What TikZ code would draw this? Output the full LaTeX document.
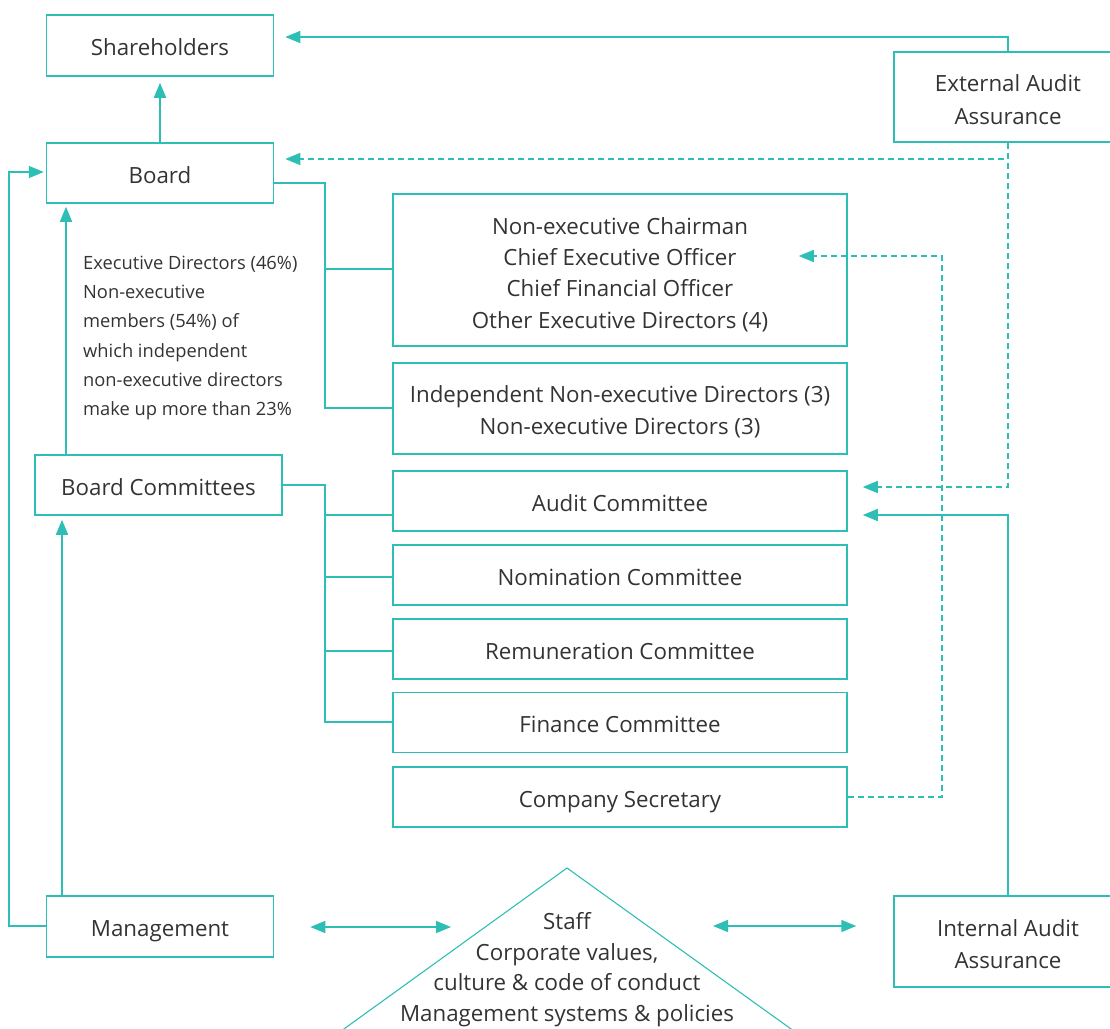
\documentclass[tikz,border=0pt]{standalone}
\usepackage{fontspec}
\setmainfont{Open Sans}
\usetikzlibrary{arrows.meta,calc}
\definecolor{tl}{HTML}{2DBFB5}
\definecolor{tx}{HTML}{333333}
\newcommand\myup[1]{\rule{0pt}{#1}}
\begin{document}
\begin{tikzpicture}[x=1pt,y=-1pt,
  box/.style={draw=tl, line width=1.5pt, text=tx, align=center, inner sep=0pt,
    font=\fontsize{22.3}{31.3}\selectfont},
  one/.style={box, text height=22pt, text depth=2pt},
  two/.style={box, font=\fontsize{22.3}{32.3}\selectfont},
  ln/.style={draw=tl, line width=1.5pt},
  arr/.style={ln, -{Triangle[length=15pt,width=12pt]}},
  darr/.style={ln, {Triangle[length=15pt,width=12pt]}-{Triangle[length=15pt,width=12pt]}},
  dsh/.style={dash pattern=on 6pt off 4pt}]
\useasboundingbox (0,0) rectangle (1110,1028);
% boxes
\node[one, minimum width=227pt, minimum height=61pt] (sh) at (160,45.5) {Shareholders};
\node[one, minimum width=227pt, minimum height=60pt] (board) at (160,173) {Board};
\node[two, minimum width=228pt, minimum height=90pt] (ext) at (1008,97) {\myup{22pt}External Audit\\Assurance};
\node[box, minimum width=454pt, minimum height=152pt] (chair) at (620,270) {\myup{26pt}Non-executive Chairman\\Chief Executive Officer\\Chief Financial Officer\\Other Executive Directors (4)};
\node[two, minimum width=454pt, minimum height=91pt] (indep) at (620,408.5) {\myup{23pt}Independent Non-executive Directors (3)\\Non-executive Directors (3)};
\node[one, minimum width=454pt, minimum height=60pt] (audit) at (620,501) {Audit Committee};
\node[one, minimum width=454pt, minimum height=60pt] (nom) at (620,575) {Nomination Committee};
\node[one, minimum width=454pt, minimum height=60pt] (rem) at (620,649) {Remuneration Committee};
\node[one, minimum width=454pt, minimum height=60pt] (fin) at (620,722.5) {Finance Committee};
\node[one, minimum width=454pt, minimum height=60pt] (sec) at (620,797) {Company Secretary};
\node[one, minimum width=247pt, minimum height=60pt] (bc) at (158.5,485) {Board Committees};
\node[one, minimum width=227pt, minimum height=61pt] (mgmt) at (160,926.5) {Management};
\node[two, minimum width=228pt, minimum height=91pt] (int) at (1008,941.5) {\myup{22pt}Internal Audit\\Assurance};
% note text
\node[anchor=north west, align=left, text=tx, inner sep=0pt, font=\fontsize{18.3}{29.3}\selectfont] (note) at (83,255.5)
  {Executive Directors (46\%)\\Non-executive\\members (54\%) of\\which independent\\non-executive directors\\make up more than 23\%};
% staff triangle
\coordinate (apex) at (567,868);
\draw[draw=tl, line width=1.1pt] (330,1039) -- (apex) -- (805,1039);
\node[align=center, text=tx, inner sep=0pt, font=\fontsize{22.3}{30.7}\selectfont] (staff) at (567,969.5)
  {Staff\\Corporate values,\\culture \& code of conduct\\Management systems \& policies};
% connectors
\draw[arr, shorten >=6pt] (board.north) -- (sh.south);
\draw[arr, shorten >=11pt] (ext.north) |- (sh.east |- 0,37);
\draw[arr, dsh, shorten >=11pt] (ext.south) |- (board.east |- 0,159);
\draw[arr, dsh, shorten >=15pt] (ext.south) |- (audit.east |- 0,487);
\draw[arr, shorten >=15pt] (int.north) |- (audit.east |- 0,515);
\draw[arr, dsh] (sec.east) -- (942,797) -- (942,256) -- ($(chair.east |- 0,256)+(-49,0)$);
% board bus
\draw[ln] (board.east |- 0,183) -- (325,183) -- (325,408) -- (indep.west |- 0,408);
\draw[ln] (325,269) -- (chair.west |- 0,269);
% committees bus
\draw[ln] (bc.east |- 0,485) -- (325,485) -- (325,722) -- (fin.west |- 0,722);
\draw[ln] (325,515) -- (audit.west |- 0,515);
\draw[ln] (325,577) -- (nom.west |- 0,577);
\draw[ln] (325,651) -- (rem.west |- 0,651);
% vertical arrows
\draw[arr, shorten >=3pt] (bc.north -| 66,0) -- (board.south -| 66,0);
\draw[arr, shorten >=4pt] (mgmt.north -| 62,0) -- (bc.south -| 62,0);
\draw[arr, shorten >=2pt] (mgmt.west |- 0,926) -- (9,926) -- (9,172) -- (board.west |- 0,172);
% double arrows
\coordinate (dl) at (451,927);
\coordinate (dr) at (713,926);
\draw[darr, shorten <=36pt] (mgmt.east |- 0,927) -- (dl);
\draw[darr, shorten >=37pt] (dr) -- (int.west |- 0,926);
\end{tikzpicture}
\end{document}
